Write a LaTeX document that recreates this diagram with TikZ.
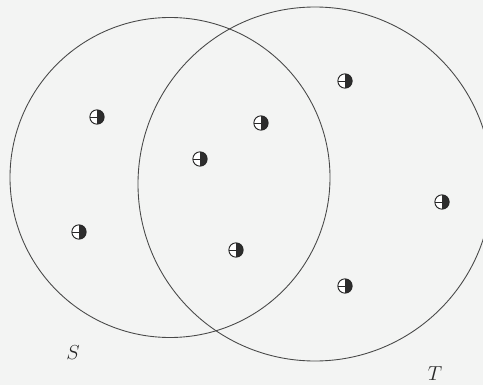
\documentclass[tikz,border=0pt]{standalone}
\usepackage{xcolor}
\usepackage{tikz}
\usetikzlibrary{positioning}
\definecolor{ink}{RGB}{40,40,40}
\definecolor{paper}{RGB}{243,244,243}
\definecolor{balldark}{RGB}{45,45,45}
\tikzset{
  setline/.style={line width=0.75pt,ink!85},
  setlabel/.style={font=\fontsize{18}{20}\selectfont,text=ink,inner sep=0pt},
  ball/.style={circle,draw=ink,line width=0.8pt,fill=white,minimum size=0.43cm,inner sep=0pt,
    path picture={
      \fill[balldark] (path picture bounding box.north) rectangle (path picture bounding box.south east);
      \draw[ink,line width=0.6pt] (path picture bounding box.center) -- (path picture bounding box.west);
    }}
}

\begin{document}
\begin{tikzpicture}[x=0.03cm,y=0.03cm]
  \fill[paper] (0,0) rectangle (483,385);
  \useasboundingbox (0,0) rectangle (483,385);
  \clip (0,0) rectangle (483,385);
  % the two sets
  \coordinate (s) at (170,207.5);
  \coordinate (t) at (315,201);
  \draw[setline] (s) circle (160);
  \draw[setline] (t) circle (177);
  \node[setlabel] (slab) at (73,32) {$S$};
  \node[setlabel] (tlab) at (435,11) {$T$};
  % elements
  \foreach \n/\x/\y in {p1/97/117,p2/261/123,p3/200/159,p4/79/232,p5/236/250,
                        p6/345/81,p7/442/202,p8/345/286}
    \node[ball] (\n) at (\x,385-\y) {};
\end{tikzpicture}
\end{document}
